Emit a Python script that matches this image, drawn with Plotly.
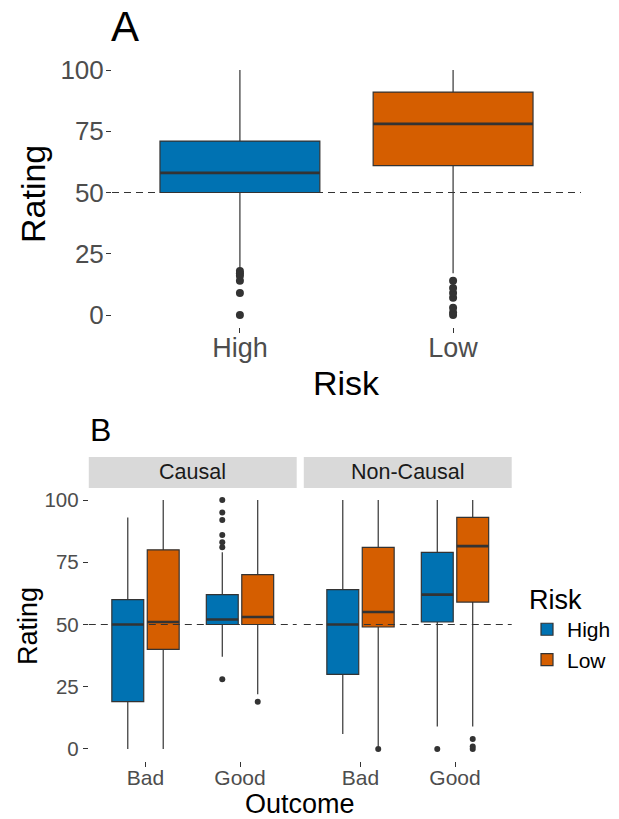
import plotly.graph_objects as go

W, H = 619, 819
FONT = "Liberation Sans, Arial, sans-serif"

# ---------------- data ----------------
risk_levels = ["High", "Low"]
risk_colors = ["#0072B2", "#D55E00"]
rating_ticks = [0, 25, 50, 75, 100]
reference_rating = 50

# Panel A: rating by risk
a_q1 = [50, 61]
a_median = [58, 78]
a_q3 = [71, 91]
a_lower = [19, 17]
a_upper = [100, 100]
a_outliers = [[18, 17, 16, 14, 9, 0], [14, 11, 9, 7, 3, 1, 0]]

# Panel B: rating by outcome, risk and causal condition
facets = ["Causal", "Non-Causal"]
outcomes = ["Bad", "Good"]
b_facet = ["Causal", "Causal", "Causal", "Causal",
           "Non-Causal", "Non-Causal", "Non-Causal", "Non-Causal"]
b_outcome = ["Bad", "Bad", "Good", "Good", "Bad", "Bad", "Good", "Good"]
b_risk = ["High", "Low", "High", "Low", "High", "Low", "High", "Low"]
b_q1 = [19, 40, 50, 50, 30, 49, 51, 59]
b_median = [50, 51, 52, 53, 50, 55, 62, 81.5]
b_q3 = [60, 80, 62, 70, 64, 81, 79, 93]
b_lower = [0, 0, 37, 22, 6, 1, 9, 9]
b_upper = [93, 100, 79, 100, 100, 100, 100, 100]
b_outliers = [[], [], [28, 81, 83, 86, 92, 95, 100], [19],
              [], [0], [0], [4, 1, 0]]


def px_x(p):
    return p / W


def px_y(p):
    return 1 - p / H


fig = go.Figure()
box_line = dict(color="#333333", width=1.2)
median_line = dict(color="#333333", width=2.6)
clear = "rgba(0,0,0,0)"

# ---------------- panel A ----------------
for i, risk in enumerate(risk_levels):
    fig.add_trace(go.Box(
        x=[risk], y=[a_outliers[i]],
        q1=[a_q1[i]], median=[a_median[i]], q3=[a_q3[i]],
        lowerfence=[a_lower[i]], upperfence=[a_upper[i]],
        orientation="v", width=0.75, boxpoints="outliers", jitter=0, pointpos=0,
        fillcolor=risk_colors[i], line=box_line, whiskerwidth=0,
        marker=dict(color="#333333", size=8, line=dict(width=0)),
        xaxis="x", yaxis="y", showlegend=False, name=risk,
    ))
    # thicker median bar (ggplot style)
    fig.add_trace(go.Box(
        x=[risk], q1=[a_median[i]], median=[a_median[i]], q3=[a_median[i]],
        lowerfence=[a_median[i]], upperfence=[a_median[i]],
        orientation="v", width=0.75, boxpoints=False, fillcolor=clear,
        line=median_line, whiskerwidth=0, hoverinfo="skip",
        xaxis="x", yaxis="y", showlegend=False, name=risk,
    ))

# ---------------- panel B ----------------
for f, facet in enumerate(facets):
    ax = str(f + 2)
    for r, risk in enumerate(risk_levels):
        idx = [k for k in range(len(b_facet)) if b_facet[k] == facet and b_risk[k] == risk]
        idx.sort(key=lambda k: len(b_outliers[k]) == 0)
        kw = {}
        pts = [b_outliers[k] for k in idx]
        if any(len(p) for p in pts):
            kw["y"] = pts
        fig.add_trace(go.Box(
            x=[b_outcome[k] for k in idx],
            q1=[b_q1[k] for k in idx], median=[b_median[k] for k in idx],
            q3=[b_q3[k] for k in idx],
            lowerfence=[b_lower[k] for k in idx], upperfence=[b_upper[k] for k in idx],
            orientation="v", boxpoints="outliers", jitter=0, pointpos=0,
            fillcolor=risk_colors[r], line=box_line, whiskerwidth=0,
            marker=dict(color="#333333", size=6, line=dict(width=0)),
            offsetgroup=risk, legendgroup=risk, name=risk,
            showlegend=(f == 0),
            xaxis="x" + ax, yaxis="y" + ax, **kw,
        ))
        meds = [b_median[k] for k in idx]
        fig.add_trace(go.Box(
            x=[b_outcome[k] for k in idx],
            q1=meds, median=meds, q3=meds, lowerfence=meds, upperfence=meds,
            orientation="v", boxpoints=False, fillcolor=clear,
            line=median_line, whiskerwidth=0, hoverinfo="skip",
            offsetgroup=risk, legendgroup=risk, name=risk, showlegend=False,
            xaxis="x" + ax, yaxis="y" + ax,
        ))

# ---------------- axes ----------------
tick_common = dict(ticks="outside", ticklen=5, tickwidth=1.1, tickcolor="#333333",
                   showgrid=False, zeroline=False, showline=False, automargin=False)

a_top, a_bot = 57.75, 327.25
b_top, b_bot = 487.6, 761.4

fig.update_layout(
    xaxis=dict(domain=[px_x(112), px_x(581)], anchor="y", type="category",
               categoryorder="array", categoryarray=risk_levels, range=[-0.6, 1.6],
               tickfont=dict(size=27, color="#4D4D4D"), ticklabelstandoff=-9, **tick_common),
    yaxis=dict(domain=[px_y(a_bot), px_y(a_top)], anchor="x", range=[-5, 105],
               tickvals=rating_ticks, tickfont=dict(size=26, color="#4D4D4D"),
               ticklabelstandoff=-3, **tick_common),
    xaxis2=dict(domain=[px_x(88.8), px_x(296.7)], anchor="y2", type="category",
                categoryorder="array", categoryarray=outcomes, range=[-0.6, 1.6],
                tickfont=dict(size=21, color="#4D4D4D"), ticklabelstandoff=-8, **tick_common),
    yaxis2=dict(domain=[px_y(b_bot), px_y(b_top)], anchor="x2", range=[-5, 105],
                tickvals=rating_ticks, tickfont=dict(size=20.5, color="#4D4D4D"), **tick_common),
    xaxis3=dict(domain=[px_x(303.8), px_x(511.7)], anchor="y3", type="category",
                categoryorder="array", categoryarray=outcomes, range=[-0.6, 1.6],
                tickfont=dict(size=21, color="#4D4D4D"), ticklabelstandoff=-8, **tick_common),
    yaxis3=dict(domain=[px_y(b_bot), px_y(b_top)], anchor="x3", range=[-5, 105],
                tickvals=rating_ticks, showticklabels=False,
                showgrid=False, zeroline=False, showline=False, ticks="", automargin=False),
)

# ---------------- shapes ----------------
shapes = []
for xr, yr in [("x", "y"), ("x2", "y2"), ("x3", "y3")]:
    shapes.append(dict(type="line", xref=xr + " domain", x0=0, x1=1, yref=yr,
                       y0=reference_rating, y1=reference_rating, layer="above",
                       line=dict(color="#333333", width=1.2, dash="7px,5px")))
annotations = []
for f, facet in enumerate(facets):
    xr = "x%d domain" % (f + 2)
    shapes.append(dict(type="rect", xref=xr, x0=0, x1=1, yref="paper",
                       y0=px_y(488), y1=px_y(457), fillcolor="#D9D9D9",
                       line=dict(width=0), layer="below"))
    annotations.append(dict(text=facet, xref=xr, x=0.5, yref="paper", y=px_y(472.5),
                            showarrow=False, xanchor="center", yanchor="middle",
                            font=dict(size=21.5, color="#1A1A1A")))


# labels and axis titles
def label(text, x, y, size, angle=0):
    annotations.append(dict(text=text, xref="paper", yref="paper", x=px_x(x), y=px_y(y),
                            showarrow=False, xanchor="center", yanchor="middle",
                            textangle=angle, font=dict(size=size, color="black")))


label("A", 125, 26, 42)
label("Rating", 33, 194, 34, -90)
label("Risk", 346.5, 383, 34)
label("B", 100, 430, 32)
label("Rating", 28, 626, 27, -90)
label("Outcome", 299.5, 804, 27)

fig.update_layout(
    width=W, height=H,
    margin=dict(l=0, r=0, t=0, b=0),
    paper_bgcolor="white", plot_bgcolor="white",
    font=dict(family=FONT, color="black"),
    boxmode="group", boxgap=0.25, boxgroupgap=0.1,
    shapes=shapes, annotations=annotations,
    legend=dict(x=px_x(527), y=px_y(574), xanchor="left", yanchor="top",
                title=dict(text="Risk", font=dict(size=27, color="black")),
                font=dict(size=21, color="black"), bgcolor="rgba(0,0,0,0)",
                tracegroupgap=0),
)

fig.write_html("out.html", config={"displayModeBar": False},
               post_script="document.body.style.margin='0';")
